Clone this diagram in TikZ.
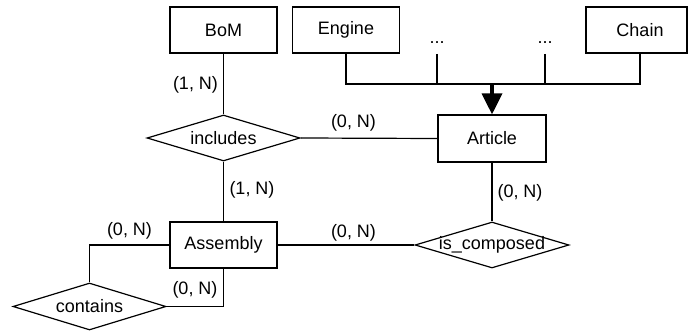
\documentclass[tikz,border=0pt]{standalone}
\usepackage{fontspec}
\setmainfont{Liberation Sans}
\usetikzlibrary{shapes.geometric,arrows.meta}
\begin{document}
\begin{tikzpicture}[x=1pt,y=-1pt,
  every node/.style={font=\fontsize{18pt}{21pt}\selectfont},
  entity/.style={draw,line width=1.2pt,rectangle,inner sep=0pt,minimum width=107pt,minimum height=46pt},
  relation/.style={draw,line width=1.2pt,diamond,inner sep=0pt,minimum width=153pt,minimum height=46pt},
  card/.style={inner sep=0pt},
  dotsnode/.style={inner sep=0pt,text depth=10pt,anchor=south},
  conn/.style={line width=1.2pt},
  isa/.style={line width=3.5pt,-{Triangle[width=20pt,length=21pt]}}
]
\useasboundingbox (0,0) rectangle (688,331);
% entities
\node[entity] (bom) at (223.5,30) {BoM};
\node[entity] (engine) at (346,30) {Engine};
\node[entity,minimum width=101pt] (chain) at (636.5,30) {\hspace*{7pt}Chain};
\node[dotsnode] (d1) at (437,54) {...};
\node[dotsnode] (d2) at (545,54) {...};
\node[entity,minimum width=108pt,minimum height=47pt] (article) at (492,138.5) {Article};
\node[entity] (assembly) at (223.5,245) {Assembly};
% relations
\node[relation,label=center:{includes}] (includes) at (223.5,138) {};
\node[relation,minimum width=154pt,label=center:{is\_composed}] (iscomp) at (492,245) {};
\node[relation,minimum height=47pt,label=center:{contains}] (contains) at (89.5,306.5) {};
% junction
\coordinate (j) at (492,84);
\draw[conn] (engine.south) |- (j) -| ([xshift=3.5pt]chain.south);
\draw[conn] (d1.south) -- (d1.south |- j);
\draw[conn] (d2.south) -- (d2.south |- j);
\draw[isa] (j) -- (article.north);
% connectors
\draw[conn] (bom.south) -- (includes.north);
\draw[conn] (includes.east) -- (article.west);
\draw[conn] (includes.south) -- (assembly.north);
\draw[conn] (article.south) -- (iscomp.north);
\draw[conn] (assembly.east) -- (iscomp.west);
\draw[conn] (assembly.west) -| (contains.north);
\draw[conn] (contains.east) -| (assembly.south);
% cardinalities
\node[card] (c1) at (195.5,84.5) {(1, N)};
\node[card] (c2) at (353.5,123) {(0, N)};
\node[card] (c3) at (252,190) {(1, N)};
\node[card] (c4) at (520,192.5) {(0, N)};
\node[card] (c5) at (129.5,230.5) {(0, N)};
\node[card] (c6) at (353.5,233) {(0, N)};
\node[card] (c7) at (195,289.5) {(0, N)};
\end{tikzpicture}
\end{document}
